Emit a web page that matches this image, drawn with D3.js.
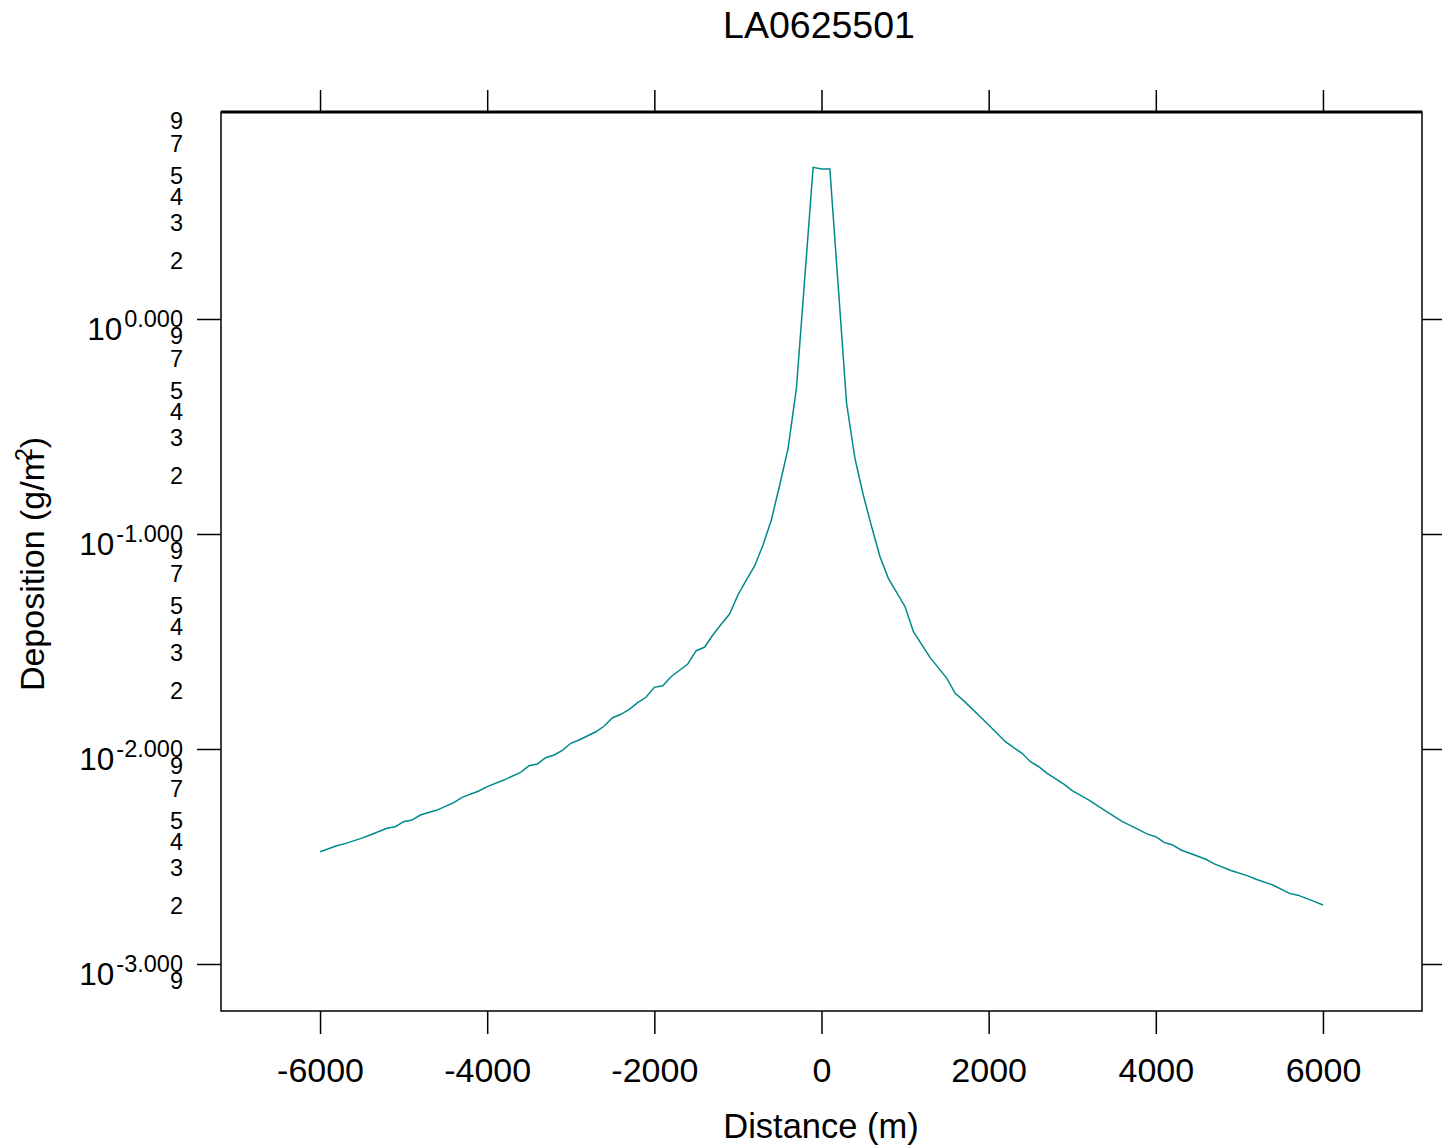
<!DOCTYPE html>
<html>
<head>
<meta charset="utf-8">
<script src="https://d3js.org/d3.v7.min.js"></script>
<style>
  body { margin: 0; background: #fff; }
  svg text { font-family: "Liberation Sans", Arial, sans-serif; fill: #000; }
</style>
</head>
<body>
<svg width="1442" height="1148"></svg>
<script>
// **** Data ****
var distance = [
  -6000, -5800, -5700, -5500, -5400, -5200, -5100, -5000, -4900, -4800,
  -4600, -4400, -4300, -4100, -4000, -3800, -3600, -3500, -3400, -3300,
  -3200, -3100, -3000, -2900, -2700, -2600, -2500, -2400, -2300, -2200,
  -2100, -2000, -1900, -1800, -1600, -1500, -1400, -1300, -1200, -1100,
  -1000, -900, -800, -700, -600, -500, -400, -300, -100, 0,
  100, 300, 400, 500, 600, 700, 800, 1000, 1100, 1300,
  1500, 1600, 1700, 1900, 2100, 2200, 2300, 2400, 2500, 2600,
  2700, 2900, 3000, 3200, 3300, 3600, 3700, 3900, 4000, 4100,
  4200, 4300, 4600, 4700, 4900, 5100, 5200, 5400, 5600, 5700,
  5900, 6000
];
var deposition = [
  0.00333, 0.00355, 0.00363, 0.00385, 0.00398, 0.00428, 0.00435, 0.00459, 0.00467, 0.00493,
  0.00520, 0.00563, 0.00596, 0.00638, 0.00668, 0.00717, 0.00779, 0.00836, 0.00852, 0.00911,
  0.00938, 0.00986, 0.01063, 0.01101, 0.01203, 0.01279, 0.01398, 0.01450, 0.01530, 0.01642,
  0.01740, 0.01936, 0.01970, 0.02169, 0.02485, 0.02866, 0.02972, 0.03390, 0.03802, 0.04246,
  0.05203, 0.06109, 0.07099, 0.08888, 0.1162, 0.1690, 0.2504, 0.4762, 5.077, 4.985,
  4.985, 0.4055, 0.2249, 0.1518, 0.1081, 0.0784, 0.0622, 0.0459, 0.0351, 0.0266,
  0.0213, 0.01816, 0.01678, 0.01413, 0.01183, 0.01081, 0.01014, 0.00955, 0.00873, 0.00827,
  0.00771, 0.00687, 0.00640, 0.00579, 0.00545, 0.00459, 0.00440, 0.00402, 0.00391, 0.00368,
  0.00358, 0.00339, 0.00307, 0.00292, 0.00272, 0.00257, 0.00248, 0.00233, 0.00213, 0.00209,
  0.00195, 0.00188
];

var xTicks = [-6000, -4000, -2000, 0, 2000, 4000, 6000];
var decades = [0, -1, -2, -3];
var decadeLabels = ['0.000', '-1.000', '-2.000', '-3.000'];
var minorDigits = [9, 7, 5, 4, 3, 2];

var data = distance.map((d, i) => ({ x: d, y: deposition[i] }));

// **** Scales ****
var plotLeft = 221, plotRight = 1422, plotTop = 112, plotBottom = 1011;

var xScale = d3.scaleLinear()
    .domain([-7185, 7185])
    .range([plotLeft, plotRight]);

var yScale = d3.scaleLog()
    .domain([Math.pow(10, -3.2186), Math.pow(10, 0.9628)])
    .range([plotBottom, plotTop]);

var svg = d3.select('svg');

// Title
svg.append('text')
    .attr('text-anchor', 'middle')
    .attr('x', 819)
    .attr('y', 38)
    .style('font-size', '37.5px')
    .text('LA0625501');

// Plot box (top edge drawn heavier)
svg.append('rect')
    .attr('x', plotLeft).attr('y', plotTop)
    .attr('width', plotRight - plotLeft).attr('height', plotBottom - plotTop)
    .attr('fill', 'none')
    .attr('stroke', '#000')
    .attr('stroke-width', 1.5);
svg.append('line')
    .attr('x1', plotLeft).attr('x2', plotRight)
    .attr('y1', plotTop).attr('y2', plotTop)
    .attr('stroke', '#000')
    .attr('stroke-width', 3);

// X axis - bottom with labels, top ticks only
var xAxisBottom = d3.axisBottom(xScale)
    .tickValues(xTicks)
    .tickSize(23)
    .tickPadding(24)
    .tickFormat(d => d < 0 ? '-' + Math.abs(d) : String(d));
var gxb = svg.append('g')
    .attr('transform', 'translate(0,' + plotBottom + ')')
    .call(xAxisBottom);
gxb.select('.domain').remove();
gxb.selectAll('line').attr('stroke-width', 1.5);
gxb.selectAll('text')
    .style('font-size', '34px')
    .style('font-family', '"Liberation Sans", Arial, sans-serif');

var gxt = svg.append('g')
    .attr('transform', 'translate(0,' + plotTop + ')')
    .call(d3.axisTop(xScale).tickValues(xTicks).tickSize(22).tickFormat(''));
gxt.select('.domain').remove();
gxt.selectAll('line').attr('stroke-width', 1.5);

// Y axis - major ticks on both sides
var majorVals = decades.map(p => Math.pow(10, p));
var gyl = svg.append('g')
    .attr('transform', 'translate(' + plotLeft + ',0)')
    .call(d3.axisLeft(yScale).tickValues(majorVals).tickSize(24).tickFormat(''));
gyl.select('.domain').remove();
gyl.selectAll('line').attr('stroke-width', 1.5);

var gyr = svg.append('g')
    .attr('transform', 'translate(' + plotRight + ',0)')
    .call(d3.axisRight(yScale).tickValues(majorVals).tickSize(20).tickFormat(''));
gyr.select('.domain').remove();
gyr.selectAll('line').attr('stroke-width', 1.5);

// Major labels: 10^p
decades.forEach(function(p, i) {
    var yy = yScale(Math.pow(10, p));
    var t = svg.append('text')
        .attr('text-anchor', 'end')
        .attr('x', 183)
        .attr('y', yy + 21)
        .style('font-size', '31.5px');
    t.append('tspan').text('10');
    t.append('tspan')
        .attr('dx', 2)
        .attr('dy', -13)
        .style('font-size', '23.5px')
        .text(decadeLabels[i]);
});

// Minor labels (digits only, no tick marks)
var minorVals = [];
[1, 0, -1, -2, -3].forEach(function(p) {
    minorDigits.forEach(function(m) {
        var v = m * Math.pow(10, p - 1);
        if (Math.log10(v) > -3.1 && v <= yScale.domain()[1]) minorVals.push({ v: v, m: m });
    });
});
svg.selectAll('.minor')
    .data(minorVals)
    .enter()
    .append('text')
    .attr('class', 'minor')
    .attr('text-anchor', 'end')
    .attr('x', 183)
    .attr('y', d => yScale(d.v) + 15)
    .style('font-size', '23.5px')
    .text(d => d.m);

// Axis titles
svg.append('text')
    .attr('text-anchor', 'middle')
    .attr('x', 821)
    .attr('y', 1138)
    .style('font-size', '34.5px')
    .text('Distance (m)');

var yl = svg.append('text')
    .attr('text-anchor', 'middle')
    .attr('transform', 'translate(44,564) rotate(-90)')
    .style('font-size', '34px');
yl.append('tspan').text('Deposition (g/m');
yl.append('tspan').attr('dy', -12).attr('dx', -8).style('font-size', '23px').text('2');
yl.append('tspan').attr('dy', 12).text(')');

// The line
var line = d3.line()
    .x(d => xScale(d.x))
    .y(d => yScale(d.y));

svg.append('path')
    .datum(data)
    .attr('d', line)
    .attr('fill', 'none')
    .attr('stroke', '#00898a')
    .attr('stroke-width', 1.5);
</script>
</body>
</html>
